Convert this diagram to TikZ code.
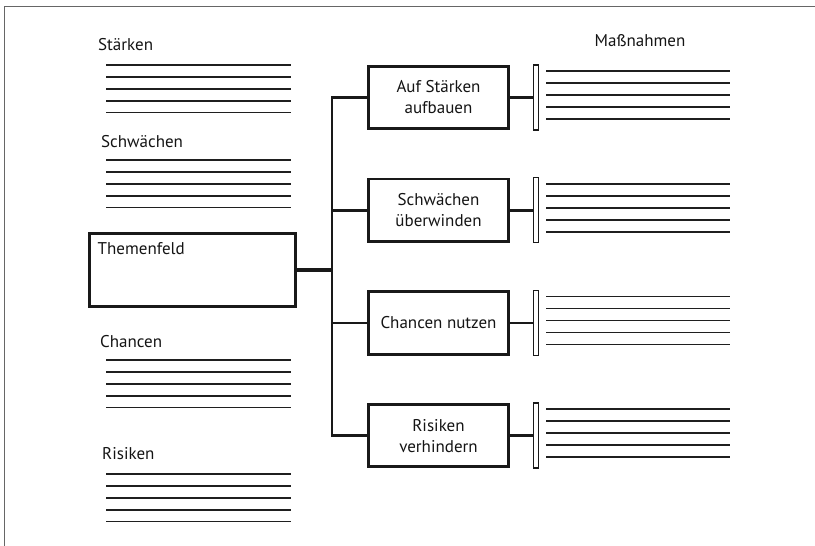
\documentclass[tikz,border=0pt]{standalone}
\usepackage{fontspec}
\setmainfont{PT Sans}
\usetikzlibrary{positioning}

\begin{document}
\begin{tikzpicture}[x=1pt, y=-1pt,
			font=\fontsize{17}{21}\selectfont,
			feld/.style={draw=black!90, line width=2.8pt, inner sep=0pt, align=center},
			riegel/.style={draw=black!90, line width=1.5pt, minimum width=4.6pt, minimum height=65pt, inner sep=0pt},
			conn/.style={draw=black!90, line width=2.8pt},
			zeile/.style={draw=black!88, line width=1.6pt},
			titel/.style={anchor=west, inner sep=0pt, text=black!92}]

			\useasboundingbox (0,0) rectangle (815,546);
			% Rahmen (nur oben und links)
			\draw[black!60, line width=1.5pt] (4.5,546) -- (4.5,6.5) -- (815,6.5);

			% linke Spalte: Listen
			\foreach \name/\txt/\xt/\yt/\yl in {staerken/Stärken/98/45/65, schwaechen/Schwächen/101/142/160, chancen/Chancen/100/342/360, risiken/Risiken/102/454/474}{
				\node[titel] (\name) at (\xt,\yt) {\txt};
				\foreach \k in {0,...,4}
					\draw[zeile] (106,\yl+11.9*\k) -- (291,\yl+11.9*\k);
			}

			% Themenfeld
			\node[feld, minimum width=206pt, minimum height=73pt] (themen) at (192.5,270) {};
			\node[titel] (themenlabel) at (97.5,249) {Themenfeld};
			\coordinate (hub) at (332,270);
			\draw[conn, line width=3.4pt] (themen.east) -- (hub);

			\node[inner sep=0pt, text=black!92] (massnahmen) at (640,41) {Maßnahmen};

			% rechte Spalte: Strategien
			\foreach \i/\txt in {1/{Auf Stärken\\aufbauen}, 2/{Schwächen\\überwinden}, 3/{Chancen nutzen}, 4/{Risiken\\verhindern}}{
				\pgfmathsetmacro{\yb}{97.5+112.7*(\i-1)}
				\node[feld, minimum width=140pt, minimum height=62.5pt, text=black!92] (box\i) at (438.5,\yb) {\txt};
				\node[riegel] (riegel\i) at (536,\yb) {};
				\draw[conn] (box\i.west) -| (hub);
				\draw[conn] (box\i.east) -- (riegel\i.west);
				\foreach \k in {0,...,4}
					\draw[zeile] (546,\yb-26.5+12*\k) -- (730,\yb-26.5+12*\k);
			}
		\end{tikzpicture}
\end{document}
